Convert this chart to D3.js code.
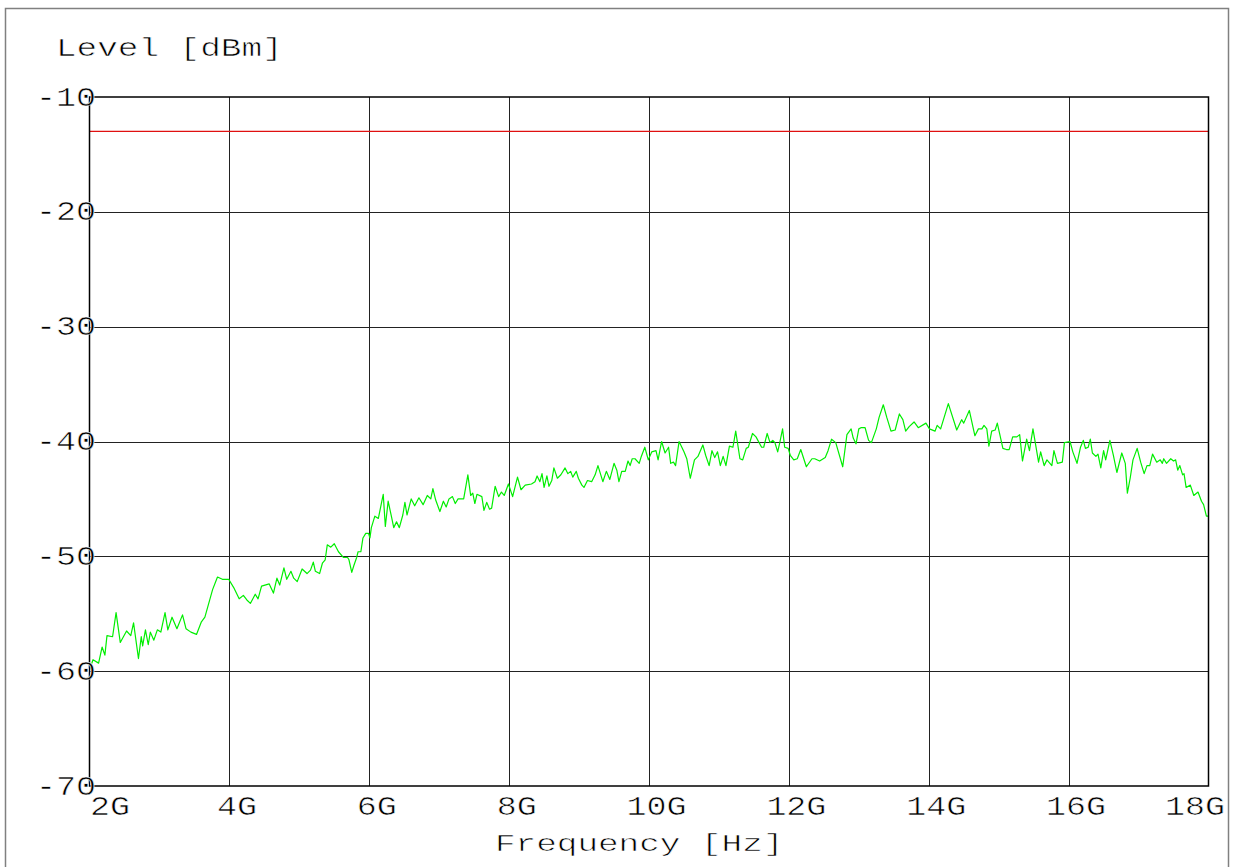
<!DOCTYPE html>
<html><head><meta charset="utf-8">
<script src="https://cdn.jsdelivr.net/npm/d3@7"></script>
<style>
html,body{margin:0;padding:0;background:#fff;}
svg{display:block;}
svg text{stroke:#fff;stroke-width:0.6px;}
</style>
</head><body>
<svg id="c" width="1236" height="867"></svg>
<script>
// ---- data ----
const freqGHz = [
2.00,2.05,2.13,2.18,2.22,2.25,2.33,2.38,2.44,2.53,2.59,2.63,2.70,2.74,2.76,2.80,2.84,2.87,2.92,2.97,
3.02,3.08,3.12,3.18,3.25,3.33,3.38,3.45,3.53,3.60,3.65,3.76,3.83,3.90,3.99,
4.06,4.14,4.20,4.25,4.30,4.37,4.41,4.46,4.57,4.63,4.68,4.72,4.78,4.82,4.88,4.92,4.97,
5.04,5.11,5.16,5.20,5.23,5.29,5.33,5.37,5.40,5.45,5.50,5.56,5.63,5.69,5.71,5.75,5.78,5.82,5.84,5.88,5.91,5.95,5.99,
6.01,6.03,6.08,6.13,6.18,6.20,6.23,6.27,6.32,6.35,6.39,6.43,6.48,6.51,6.54,6.60,6.65,6.71,6.77,6.83,6.88,6.91,6.95,
7.01,7.06,7.10,7.14,7.19,7.23,7.27,7.35,7.41,7.45,7.48,7.51,7.54,7.61,7.64,7.68,7.72,7.75,7.80,7.85,7.89,7.93,7.99,
8.05,8.12,8.17,8.23,8.32,8.37,8.40,8.44,8.47,8.50,8.54,8.57,8.61,8.64,8.69,8.74,8.80,8.84,8.88,8.91,8.96,8.99,
9.04,9.07,9.12,9.18,9.23,9.27,9.34,9.39,9.44,9.50,9.54,9.57,9.61,9.66,9.70,9.73,9.76,9.80,9.86,9.89,9.94,9.99,
10.04,10.10,10.13,10.18,10.23,10.28,10.31,10.35,10.38,10.43,10.50,10.54,10.59,10.65,10.70,10.77,10.81,10.86,10.90,10.94,10.98,
11.02,11.06,11.10,11.15,11.20,11.24,11.30,11.34,11.39,11.42,11.48,11.53,11.61,11.64,11.69,11.73,11.77,11.80,11.84,11.87,11.91,11.94,11.99,
12.02,12.07,12.12,12.17,12.25,12.33,12.37,12.44,12.52,12.56,12.61,12.67,12.77,12.83,12.89,12.92,12.96,13.00,
13.03,13.09,13.14,13.18,13.25,13.29,13.35,13.40,13.46,13.52,13.58,13.63,13.67,13.72,13.79,13.85,13.96,
14.01,14.09,14.12,14.17,14.28,14.40,14.47,14.50,14.58,14.66,14.71,14.76,14.79,14.83,14.86,14.90,14.95,14.98,
15.06,15.11,15.15,15.20,15.26,15.30,15.34,15.40,15.44,15.49,15.57,15.60,15.65,15.69,15.76,15.79,15.84,15.91,15.94,
16.02,16.06,16.12,16.17,16.21,16.24,16.28,16.31,16.34,16.39,16.42,16.46,16.50,16.53,16.59,16.64,16.69,16.76,16.81,16.84,16.88,16.92,16.98,
17.03,17.08,17.12,17.16,17.20,17.26,17.31,17.34,17.36,17.40,17.46,17.50,17.53,17.56,17.59,17.63,17.65,17.68,17.74,17.79,17.85,17.90,17.93,17.97,18.00
];
const levelDbm = [
-59.9,-59.0,-59.3,-57.9,-58.6,-56.9,-57.0,-54.9,-57.5,-56.5,-56.9,-55.8,-58.9,-57.0,-57.8,-56.4,-57.7,-56.6,-57.3,-56.4,
-56.6,-54.9,-56.4,-55.3,-56.3,-55.1,-56.3,-56.6,-56.8,-55.7,-55.3,-52.9,-51.8,-52.0,-52.0,
-52.7,-53.7,-53.4,-53.8,-54.1,-53.3,-53.7,-52.6,-52.4,-53.2,-51.9,-52.5,-51.0,-52.0,-51.3,-51.9,-52.2,
-51.1,-51.5,-51.2,-50.5,-51.3,-51.5,-50.6,-50.3,-49.0,-49.2,-48.9,-49.6,-50.1,-50.1,-50.3,-51.4,-50.8,-50.1,-49.6,-49.6,-48.4,-48.0,-48.0,
-48.4,-47.5,-46.5,-46.7,-45.2,-44.6,-47.4,-45.2,-46.6,-47.5,-47.0,-47.5,-46.4,-45.3,-46.4,-45.0,-45.6,-44.9,-45.5,-44.7,-45.0,-44.1,-45.1,
-46.1,-45.2,-45.7,-45.0,-44.8,-45.4,-45.0,-45.0,-42.9,-44.7,-44.5,-45.4,-44.6,-44.8,-46.0,-45.3,-45.9,-45.8,-43.9,-44.8,-44.4,-44.7,-43.7,
-44.8,-43.1,-44.2,-43.8,-43.7,-43.5,-43.0,-43.5,-42.8,-44.0,-43.0,-43.9,-43.4,-42.3,-43.2,-42.9,-42.3,-42.8,-42.6,-43.1,-42.6,-43.2,
-43.8,-44.0,-43.4,-43.5,-42.9,-42.1,-43.5,-42.6,-43.3,-41.9,-42.5,-43.5,-42.6,-42.6,-41.7,-42.1,-41.5,-41.5,-41.9,-41.3,-40.5,-41.6,
-40.9,-40.8,-41.6,-40.0,-41.0,-40.5,-41.9,-41.8,-42.1,-40.0,-40.9,-41.5,-43.2,-41.6,-41.3,-40.3,-41.2,-42.1,-40.8,-41.4,-40.9,
-42.1,-41.3,-42.1,-40.4,-40.5,-39.1,-41.5,-41.6,-40.6,-40.5,-39.3,-39.6,-40.5,-40.5,-39.3,-40.1,-39.9,-40.1,-40.9,-40.1,-38.9,-40.5,-40.6,
-41.2,-41.6,-41.5,-40.7,-42.2,-41.5,-41.5,-41.7,-41.4,-40.8,-39.8,-40.1,-42.2,-39.4,-38.9,-39.7,-40.2,-38.9,
-38.8,-38.8,-39.9,-40.1,-38.9,-37.9,-36.8,-37.9,-39.1,-39.0,-37.6,-38.1,-39.1,-38.7,-38.3,-38.8,-38.4,
-38.9,-39.1,-38.6,-38.9,-36.7,-39.0,-38.1,-38.4,-37.3,-39.5,-38.9,-38.9,-38.6,-38.9,-40.4,-39.1,-39.0,-38.4,
-40.6,-40.7,-40.7,-39.6,-39.6,-39.4,-41.7,-39.8,-40.8,-38.9,-41.8,-40.9,-42.1,-41.6,-42.1,-40.8,-41.9,-41.8,-40.1,
-40.0,-40.9,-41.9,-40.5,-39.9,-40.6,-40.5,-39.8,-41.0,-41.3,-41.1,-42.3,-40.8,-41.6,-39.9,-41.2,-42.7,-41.0,-41.9,-44.5,-43.2,-41.6,-40.6,
-41.8,-42.8,-42.1,-42.1,-41.1,-41.8,-41.6,-41.9,-41.5,-41.9,-41.5,-41.7,-41.6,-42.5,-42.1,-42.9,-42.8,-44.0,-43.8,-44.7,-44.4,-45.2,-45.5,-46.5,-46.5
];
const limitLineDbm = -13;
const xTickValues = [2,4,6,8,10,12,14,16,18];
const xTickLabels = ["2G","4G","6G","8G","10G","12G","14G","16G","18G"];
const yTickValues = [-10,-20,-30,-40,-50,-60,-70];
const yTickLabels = ["-10","-20","-30","-40","-50","-60","-70"];
const yTitle = "Level [dBm]";
const xTitle = "Frequency [Hz]";

// ---- chart ----
const FONT = "'Liberation Mono','Courier New',Courier,monospace";
const svg = d3.select("#c");
const L = 89.5, R = 1208.5, T = 97, B = 786;
const x = d3.scaleLinear().domain([2,18]).range([L,R]);
const y = d3.scaleLinear().domain([-70,-10]).range([B,T]);

// outer frame
svg.append("rect").attr("x",5.5).attr("y",8.5).attr("width",1223).attr("height",900)
  .attr("fill","none").attr("stroke","#808080").attr("stroke-width",1.5);

// grid
const grid = svg.append("g").attr("shape-rendering","crispEdges");
grid.selectAll("line.v").data(xTickValues.slice(1,-1)).join("line").attr("class","v")
  .attr("x1",d=>Math.round(x(d))+0.5).attr("x2",d=>Math.round(x(d))+0.5)
  .attr("y1",T).attr("y2",B).attr("stroke","#222").attr("stroke-width",1);
grid.selectAll("line.h").data(yTickValues.slice(1,-1)).join("line").attr("class","h")
  .attr("y1",d=>Math.round(y(d))+0.5).attr("y2",d=>Math.round(y(d))+0.5)
  .attr("x1",L).attr("x2",R).attr("stroke","#222").attr("stroke-width",1);

// limit line
svg.append("line").attr("x1",L).attr("x2",R)
  .attr("y1",y(limitLineDbm)).attr("y2",y(limitLineDbm))
  .attr("stroke","#e01010").attr("stroke-width",1.3);

// trace
const pts = freqGHz.map((f,i)=>[f,levelDbm[i]]);
svg.append("path").datum(pts)
  .attr("d", d3.line().x(d=>x(d[0])).y(d=>y(d[1])))
  .attr("fill","none").attr("stroke","#00ee00").attr("stroke-width",1.2)
  .attr("stroke-linejoin","round");

// plot frame
svg.append("rect").attr("x",L).attr("y",T).attr("width",R-L).attr("height",B-T)
  .attr("fill","none").attr("stroke","#000").attr("stroke-width",1.5);

// x axis labels
const xAxis = d3.axisBottom(x).tickValues(xTickValues)
  .tickFormat((d,i)=>xTickLabels[i]).tickSize(0).tickPadding(0);
const gx = svg.append("g").attr("transform",`translate(0,${B})`).call(xAxis);
gx.select(".domain").remove();
const nX = xTickValues.length;
gx.selectAll("text")
  .attr("font-family",FONT).attr("font-size",28).attr("fill","#000")
  .attr("dy",0).attr("y",29)
  .attr("lengthAdjust","spacingAndGlyphs")
  .attr("textLength",(d,i)=>xTickLabels[i].length*20)
  .attr("text-anchor",(d,i)=> i===0 ? "start" : (i===nX-1 ? "end" : "middle"))
  .attr("x",(d,i)=> i===0 ? 0 : (i===nX-1 ? 16 : 7));

// y axis labels
const yAxis = d3.axisLeft(y).tickValues(yTickValues)
  .tickFormat((d,i)=>yTickLabels[i]).tickSize(0).tickPadding(0);
const gy = svg.append("g").attr("transform",`translate(${L},0)`).call(yAxis);
gy.select(".domain").remove();
gy.selectAll("text")
  .attr("font-family",FONT).attr("font-size",28).attr("fill","#000")
  .attr("dy",0).attr("y",8).attr("x",6.5)
  .attr("text-anchor","end")
  .attr("lengthAdjust","spacingAndGlyphs")
  .attr("textLength",(d,i)=>yTickLabels[i].length*20);

// titles
svg.append("text").text(yTitle).attr("x",56).attr("y",56)
  .attr("font-family",FONT).attr("font-size",25).attr("fill","#000")
  .attr("lengthAdjust","spacingAndGlyphs").attr("textLength",yTitle.length*20.6);
svg.append("text").text(xTitle).attr("x",495).attr("y",851)
  .attr("font-family",FONT).attr("font-size",24).attr("fill","#000")
  .attr("lengthAdjust","spacingAndGlyphs").attr("textLength",xTitle.length*20.6);
</script>
</body></html>
